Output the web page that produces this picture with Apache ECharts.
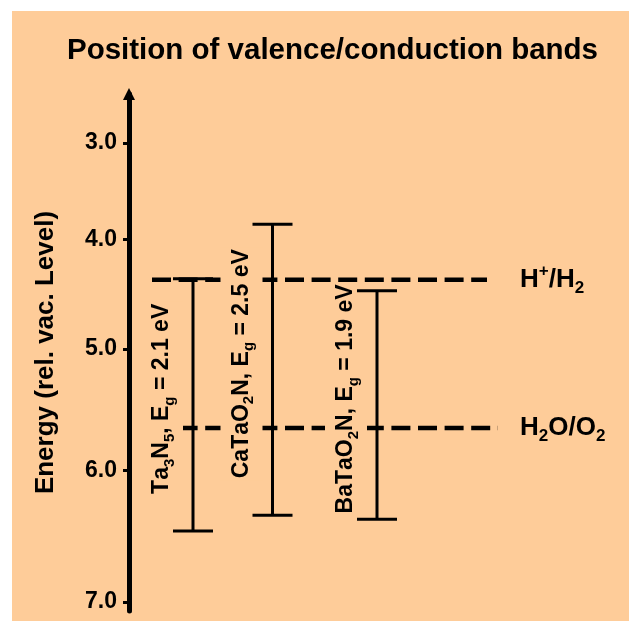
<!DOCTYPE html>
<html><head><meta charset="utf-8">
<script src="https://cdn.jsdelivr.net/npm/echarts@6/dist/echarts.min.js"></script>
<style>
html,body{margin:0;padding:0;background:#fff;}
#chart{position:absolute;left:12px;top:11px;width:617px;height:610px;}
</style></head><body><div id="chart"></div>
<script>
// ---- data ----
const materials = ['Ta3N5', 'CaTaO2N', 'BaTaO2N'];
const bandGaps = [2.1, 2.5, 1.9];
const conductionBand = [4.37, 3.85, 4.48];   // eV below vacuum
const valenceBand = [6.47, 6.35, 6.38];
const redoxNames = ['H+/H2', 'H2O/O2'];
const redoxEnergies = [4.38, 5.66];
const energyTicks = [3.0, 4.0, 5.0, 6.0, 7.0];

// ---- axis scale (power warp, energy increases downward) ----
const P = 1.5;
const warp = e => -Math.pow(e, P);
const unwarp = v => Math.pow(-v, 1 / P);

// ---- layout ----
const FONT = '"Liberation Sans", Arial, sans-serif';
const BG = '#FECC99';
const barX = [64, 143.5, 248];
const redoxStart = [23, 23];
const redoxEnd = [358, 369];
const redoxLabelX = 391;

function richify(str, key) {
  let out = '';
  for (const ch of str) {
    if (/\d/.test(ch)) out += '{' + key + 's|' + ch + '}';
    else if (ch === '+') out += '{' + key + 'p|' + ch + '}';
    else out += '{' + key + 'n|' + ch + '}';
  }
  return out;
}

const rich = {
  bn: {fontSize: 23, fontWeight: 'bold', fontFamily: FONT, color: '#000', lineHeight: 30},
  bs: {fontSize: 15, fontWeight: 'bold', fontFamily: FONT, color: '#000', lineHeight: 15, verticalAlign: 'bottom'},
  rn: {fontSize: 26, fontWeight: 'bold', fontFamily: FONT, color: '#000', lineHeight: 34},
  rs: {fontSize: 17, fontWeight: 'bold', fontFamily: FONT, color: '#000', lineHeight: 17, verticalAlign: 'bottom'},
  rp: {fontSize: 17, fontWeight: 'bold', fontFamily: FONT, color: '#000', lineHeight: 17, verticalAlign: 'top'}
};

const barData = materials.map((m, i) => [barX[i], warp(conductionBand[i]), warp(valenceBand[i]), i]);
const redoxData = redoxNames.map((n, i) => [redoxStart[i], redoxEnd[i], warp(redoxEnergies[i]), i]);

const chart = echarts.init(document.getElementById('chart'), null, {renderer: 'canvas'});
chart.setOption({
  backgroundColor: BG,
  animation: false,
  graphic: [{
    type: 'text', x: 320.5, y: 40,
    style: {text: 'Position of valence/conduction bands', font: 'bold 29.5px ' + FONT, fill: '#000', align: 'center', verticalAlign: 'middle'}
  }],
  grid: {left: 117, right: 0, top: 83, bottom: 10},
  xAxis: {type: 'value', min: 0, max: 500, show: false},
  yAxis: {
    type: 'value', min: -18.781, max: -3.774,
    axisLine: {show: true, onZero: false, symbol: ['none', 'triangle'], symbolSize: [12, 12], lineStyle: {color: '#000', width: 5}},
    axisTick: {show: true, customValues: energyTicks.map(warp), length: 6, lineStyle: {color: '#000', width: 3}},
    axisLabel: {show: true, customValues: energyTicks.map(warp), formatter: v => unwarp(v).toFixed(1),
      color: '#000', fontSize: 23, fontWeight: 'bold', fontFamily: FONT, margin: 12},
    splitLine: {show: false},
    name: 'Energy (rel. vac. Level)', nameLocation: 'middle', nameRotate: 90, nameGap: 70,
    nameTextStyle: {color: '#000', fontSize: 26, fontWeight: 'bold', fontFamily: FONT}
  },
  series: [
    {
      type: 'custom', z: 2, silent: true,
      data: redoxData,
      renderItem: (params, api) => {
        const i = api.value(3);
        const p1 = api.coord([api.value(0), api.value(2)]);
        const p2 = api.coord([api.value(1), api.value(2)]);
        const pl = api.coord([redoxLabelX, api.value(2)]);
        return {type: 'group', children: [
          {type: 'line', shape: {x1: p1[0], y1: p1[1], x2: p2[0], y2: p2[1]},
            style: {stroke: '#000', lineWidth: 4.5, lineDash: [19, 7.6]}},
          {type: 'text', x: pl[0], y: pl[1],
            style: {text: richify(redoxNames[i], 'r'), rich: rich, align: 'left', verticalAlign: 'middle'}}
        ]};
      }
    },
    {
      type: 'custom', z: 3, silent: true,
      data: barData,
      renderItem: (params, api) => {
        const i = api.value(3);
        const pT = api.coord([api.value(0), api.value(1)]);
        const pB = api.coord([api.value(0), api.value(2)]);
        const cx = pT[0], cap = 20;
        const ls = {stroke: '#000', lineWidth: 3};
        const label = richify(materials[i], 'b') + '{bn|, E}{bs|g}{bn| = ' + bandGaps[i].toFixed(1) + ' eV}';
        return {type: 'group', children: [
          {type: 'text', x: cx - 31, y: (pT[1] + pB[1]) / 2 - 6, rotation: Math.PI / 2,
            style: {text: label, rich: rich, align: 'center', verticalAlign: 'middle', backgroundColor: BG, padding: [6, 2]}},
          {type: 'line', shape: {x1: cx, y1: pT[1], x2: cx, y2: pB[1]}, style: ls},
          {type: 'line', shape: {x1: cx - cap, y1: pT[1], x2: cx + cap, y2: pT[1]}, style: ls},
          {type: 'line', shape: {x1: cx - cap, y1: pB[1], x2: cx + cap, y2: pB[1]}, style: ls}
        ]};
      }
    }
  ]
});
</script></body></html>
